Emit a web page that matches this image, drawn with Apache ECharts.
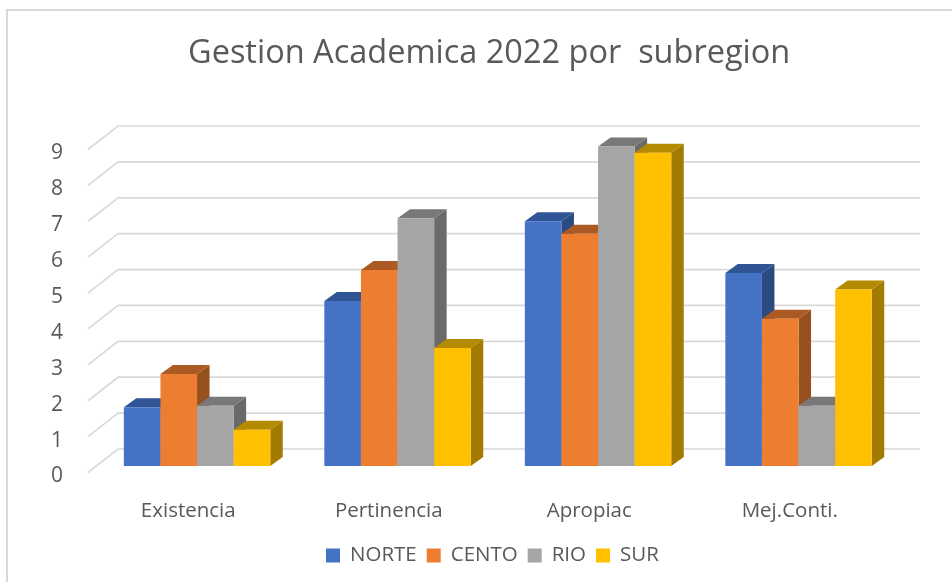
<!DOCTYPE html>
<html><head><meta charset="utf-8">
<style>html,body{margin:0;padding:0;background:#fff}#c{width:952px;height:582px}</style>
<script src="https://cdn.jsdelivr.net/npm/echarts@6/dist/echarts.min.js"></script>
</head><body><div id="c"></div>
<script>
const titleText = 'Gestion Academica 2022 por  subregion';
const categories = ['Existencia', 'Pertinencia', 'Apropiac', 'Mej.Conti.'];
const yTicks = [0,1,2,3,4,5,6,7,8,9];
const NORTE = [1.64, 4.6, 6.82, 5.38];
const CENTO = [2.56, 5.46, 6.47, 4.1];
const RIO = [1.68, 6.9, 8.9, 1.68];
const SUR = [1.01, 3.29, 8.73, 4.92];
const seriesNames = ['NORTE', 'CENTO', 'RIO', 'SUR'];
const seriesValues = [NORTE, CENTO, RIO, SUR];
const faceColors = ['#4472C4', '#ED7D31', '#A5A5A5', '#FFC000'];
const topColors = ['#2F5597', '#AB5A24', '#787878', '#B38A00'];
const sideColors = ['#2A4A80', '#96511F', '#6A6A6A', '#A37B00'];

const FONT = '"Open Sans", sans-serif';
const TEXT = '#595959', LINE = '#D9D9D9';
// projection of the 3D box
const wallDx = 30, wallDy = -23.5;      // front of floor -> back wall
const barOffDx = 8.8, barOffDy = -6.5;  // front of floor -> front of bars
const barDx = 12.5, barDy = -9;         // depth of a bar
const barBand = 36.6 / 200.5;           // bar width as share of a category

const chart = echarts.init(document.getElementById('c'), null, {renderer:'canvas'});

function wallItem(params, api) {
  const cs = params.coordSys;
  const p = api.coord([0, api.value(1)]);
  const y = p[1];
  return {type:'polyline', silent:true,
    shape:{points:[[cs.x, y],[cs.x+wallDx, y+wallDy],[cs.x+cs.width+wallDx, y+wallDy]]},
    style:{stroke:LINE, lineWidth:1.7, fill:null}};
}
function barItem(k) {
  return function(params, api) {
    const c = api.coord([api.value(0), api.value(1)]);
    const base = api.coord([api.value(0), 0]);
    const w = api.size([1,0])[0] * barBand;
    const x0 = c[0] + barOffDx + (k - 2) * w, x1 = x0 + w;
    const yT = c[1] + barOffDy, yB = base[1] + barOffDy;
    return {type:'group', children:[
      {type:'polygon', silent:true, shape:{points:[[x1,yT],[x1+barDx,yT+barDy],[x1+barDx,yB+barDy],[x1,yB]]}, style:{fill:sideColors[k]}},
      {type:'polygon', silent:true, shape:{points:[[x0,yT],[x0+barDx,yT+barDy],[x1+barDx,yT+barDy],[x1,yT]]}, style:{fill:topColors[k]}},
      {type:'rect', silent:true, shape:{x:x0,y:yT,width:w,height:yB-yT}, style:{fill:faceColors[k]}}
    ]};
  };
}

const series = [{
  type:'custom', name:'wall', silent:true, z:1,
  data: yTicks.map(v => [0, v]), encode:{x:0,y:1}, renderItem: wallItem, clip:false
}];
seriesNames.forEach((name, k) => series.push({
  type:'custom', name, z:2+k, clip:false,
  itemStyle:{color:faceColors[k]},
  encode:{x:0,y:1},
  data: categories.map((_, i) => [i, seriesValues[k][i]]),
  renderItem: barItem(k)
}));

chart.setOption({
  animation:false,
  backgroundColor:'#fff',
  title:{text:titleText, left:183, top:32, textStyle:{fontFamily:FONT, fontSize:32.5, fontWeight:'normal', color:TEXT}},
  legend:{data:seriesNames, left:326, top:545, padding:0, icon:'rect', itemWidth:14, itemHeight:14, itemGap:10, selectedMode:false,
    textStyle:{fontFamily:FONT, fontSize:20.5, color:TEXT, padding:[0,0,0,5]}},
  grid:{left:88, width:802, top:149.5, height:323},
  xAxis:{type:'category', data:categories, axisLine:{show:false}, axisTick:{show:false}, splitLine:{show:false},
    axisLabel:{fontFamily:FONT, fontSize:20.5, color:TEXT, margin:28, interval:0}},
  yAxis:{type:'value', min:0, max:9, interval:1, axisLine:{show:false}, axisTick:{show:false}, splitLine:{show:false},
    axisLabel:{fontFamily:FONT, fontSize:21, color:TEXT, margin:25, verticalAlign:'top', lineHeight:8}},
  graphic:[{type:'polyline', silent:true, z:0, shape:{points:[[7,582],[7,10],[952,10]]}, style:{fill:null, stroke:LINE, lineWidth:2}}],
  series
});
</script></body></html>
